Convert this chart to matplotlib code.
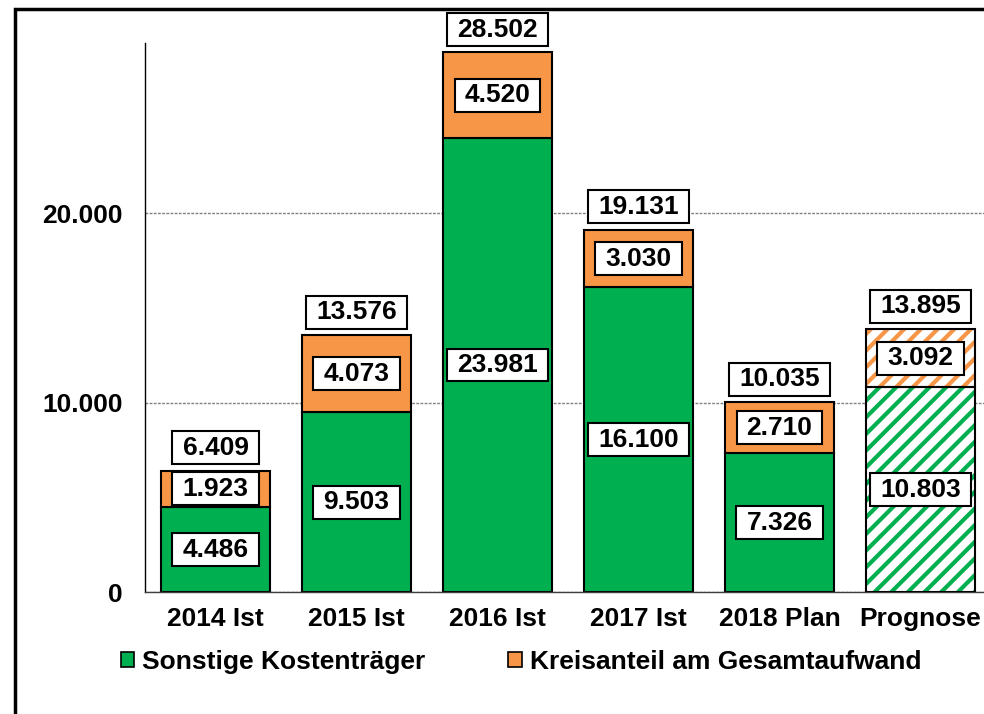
import matplotlib
matplotlib.use("Agg")
import matplotlib.pyplot as plt
from matplotlib.path import Path
from matplotlib.patches import Patch, Rectangle

categories = ["2014 Ist", "2015 Ist", "2016 Ist", "2017 Ist", "2018 Plan", "Prognose"]
sonstige = [4486, 9503, 23981, 16100, 7326, 10803]
kreis = [1923, 4073, 4520, 3030, 2710, 3092]
totals = [6409, 13576, 28502, 19131, 10035, 13895]
hatched = [False, False, False, False, False, True]
yticks = [0, 10000, 20000]
series_names = ["Sonstige Kostenträger", "Kreisanteil am Gesamtaufwand"]

GREEN = "#00B050"
ORANGE = "#F79646"
FS = 19

plt.rcParams["font.family"] = ["Liberation Sans", "DejaVu Sans"]
plt.rcParams["font.weight"] = "bold"
plt.rcParams["hatch.linewidth"] = 3.0


def fmt(v):
    return f"{v:,}".replace(",", ".")


def label_box(x0, y0, width, height, mutation_size):
    px = 0.38 * mutation_size
    py = 0.17 * mutation_size
    x0 -= px
    y0 -= py
    x1 = x0 + width + 2 * px
    y1 = y0 + height + 2 * py
    return Path([(x0, y0), (x1, y0), (x1, y1), (x0, y1), (x0, y0)],
                [Path.MOVETO, Path.LINETO, Path.LINETO, Path.LINETO, Path.CLOSEPOLY])


W, H = 984, 714
fig = plt.figure(figsize=(W / 100, H / 100), dpi=100)
ax = fig.add_axes([145 / W, 1 - 592 / H, 846 / W, (592 - 43) / H])

x = list(range(len(categories)))
bw = 0.775
for i in x:
    if hatched[i]:
        ax.bar(i, sonstige[i], bw, color="white", edgecolor=GREEN, hatch="//", linewidth=0, zorder=2)
        ax.bar(i, kreis[i], bw, bottom=sonstige[i], color="white", edgecolor=ORANGE, hatch="//",
               linewidth=0, zorder=2)
        ax.bar(i, sonstige[i], bw, fill=False, edgecolor="black", linewidth=1.5, zorder=3)
        ax.bar(i, kreis[i], bw, bottom=sonstige[i], fill=False, edgecolor="black", linewidth=1.5, zorder=3)
    else:
        ax.bar(i, sonstige[i], bw, color=GREEN, edgecolor="black", linewidth=1.5, zorder=2)
        ax.bar(i, kreis[i], bw, bottom=sonstige[i], color=ORANGE, edgecolor="black", linewidth=1.5, zorder=2)

box = dict(boxstyle=label_box, facecolor="white", edgecolor="black", linewidth=1.5)
for i in x:
    ax.text(i, sonstige[i] / 2, fmt(sonstige[i]), ha="center", va="center", fontsize=FS,
            fontweight="bold", bbox=box, zorder=5)
    ax.text(i, sonstige[i] + kreis[i] / 2, fmt(kreis[i]), ha="center", va="center", fontsize=FS,
            fontweight="bold", bbox=box, zorder=5)
    ax.annotate(fmt(totals[i]), (i, totals[i]), xytext=(0, 16.5), textcoords="offset points",
                ha="center", va="center", fontsize=FS, fontweight="bold", bbox=box, zorder=5,
                annotation_clip=False)

ax.set_xlim(-0.5, len(categories) - 0.5)
ax.set_ylim(0, 29000)
ax.set_yticks(yticks)
ax.set_yticklabels([fmt(v) for v in yticks], fontsize=FS, fontweight="bold")
ax.set_xticks(x)
ax.set_xticklabels(categories, fontsize=FS, fontweight="bold")
ax.tick_params(axis="y", length=0, pad=16)
ax.tick_params(axis="x", length=0, pad=11)
ax.yaxis.grid(True, color="#808080", linestyle=(0, (2, 1)), linewidth=1)
ax.set_axisbelow(True)
for s in ["top", "right"]:
    ax.spines[s].set_visible(False)
ax.spines["left"].set_color("black")
ax.spines["left"].set_linewidth(1)
ax.spines["bottom"].set_color("#404040")
ax.spines["bottom"].set_linewidth(1)

handles = [Patch(facecolor=GREEN, edgecolor="black", linewidth=1.2),
           Patch(facecolor=ORANGE, edgecolor="black", linewidth=1.2)]
fig.legend(handles, series_names, loc="center left", bbox_to_anchor=(121 / W, 1 - 662 / H),
           ncol=2, frameon=False, prop={"size": FS, "weight": "bold"}, handlelength=0.5,
           handleheight=0.5, handletextpad=0.3, columnspacing=3.15, borderpad=0, borderaxespad=0)

fig.patches.append(Rectangle((15 / W, -0.2), 1.5, 1 - 9 / H + 0.2, transform=fig.transFigure,
                             fill=False, edgecolor="black", linewidth=2.5, zorder=10))

fig.savefig("out.png", dpi=100)
